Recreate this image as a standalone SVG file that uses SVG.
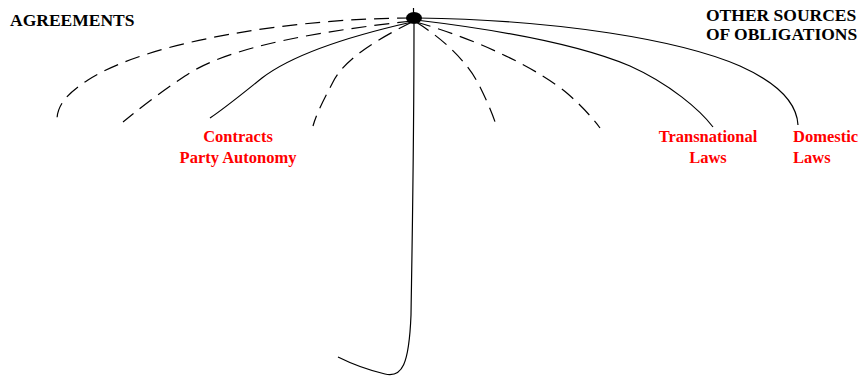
<svg xmlns="http://www.w3.org/2000/svg" width="862" height="377" viewBox="0 0 862 377">
<style>
.rib{fill:none;stroke:#000;stroke-width:1.2}
.dash{stroke-dasharray:15 8}
.lbl{font-family:"Liberation Serif","Times New Roman",serif;font-weight:bold;font-size:16.5px}
.big{font-size:17.5px}
.blk{fill:#000}
.red{fill:#ff0000}
</style>
<rect width="862" height="377" fill="#fff"/>
<g id="connectors">
<path class="rib dash" d="M412,18 C300,18 150,40 88,80 C66,94 57,106 57,120"/>
<path class="rib dash" d="M412,21 C330,30 230,45 185,76 C155,96 138,110 123,122"/>
<path class="rib" d="M412,22 C350,36 292,55 262,78 C242,94 225,108 210,118"/>
<path class="rib dash" d="M412,22 C380,38 345,58 333,82 C322,103 316,115 313,126"/>
<path class="rib dash" d="M416,22 C445,40 468,63 479,85 C489,105 494,118 497,128"/>
<path class="rib dash" d="M416,22 C480,40 540,70 568,94 C584,108 594,120 600,128"/>
<path class="rib" d="M416,20 C500,30 580,45 630,66 C670,84 700,110 713,127"/>
<path class="rib" d="M418,18 C560,20 680,40 740,66 C780,84 797,105 798,125"/>
<path class="rib" d="M414,24 C414,150 412,250 411,315 C409,365 402,378 385,374 C368,370 350,363 338,357"/>
<line class="rib" x1="413.5" y1="8" x2="413.5" y2="14"/>
</g>
<g id="hub"><ellipse cx="414" cy="18" rx="8" ry="6" fill="#000"/></g>
<g id="agreements"><text class="lbl big blk" x="10" y="26">AGREEMENTS</text></g>
<g id="other-sources"><text class="lbl big blk" x="706" y="21">OTHER SOURCES</text><text class="lbl big blk" x="706" y="40">OF OBLIGATIONS</text></g>
<g id="contracts"><text class="lbl red" x="238" y="142" text-anchor="middle">Contracts</text><text class="lbl red" x="238" y="163" text-anchor="middle">Party Autonomy</text></g>
<g id="transnational"><text class="lbl red" x="708" y="142" text-anchor="middle">Transnational</text><text class="lbl red" x="708" y="163" text-anchor="middle">Laws</text></g>
<g id="domestic"><text class="lbl red" x="793" y="142">Domestic</text><text class="lbl red" x="793" y="163">Laws</text></g>
</svg>
